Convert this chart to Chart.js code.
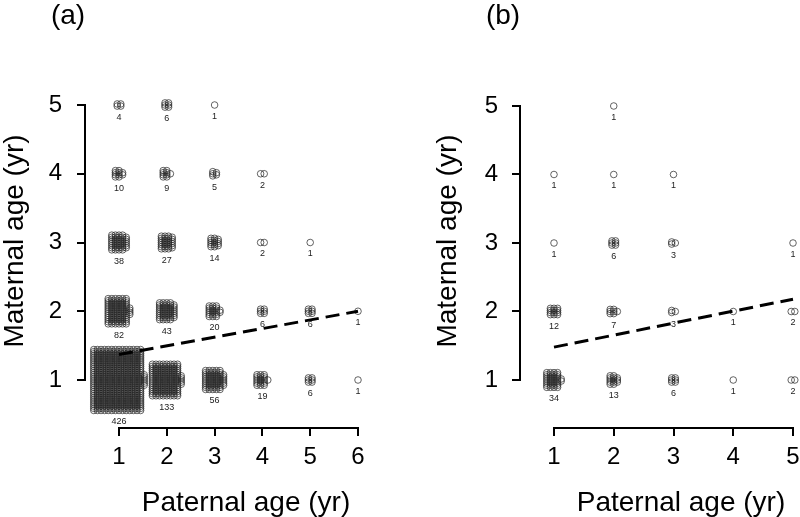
<!DOCTYPE html>
<html>
<head>
<meta charset="utf-8">
<script src="https://cdn.jsdelivr.net/npm/chart.js@4.4.0/dist/chart.umd.min.js"></script>
<style>
  html, body { margin: 0; padding: 0; background: #fff; }
  #wrap { position: relative; width: 800px; height: 517px; overflow: hidden; }
  #panelA { position: absolute; left: 0; top: 0; }
  #panelB { position: absolute; left: 400px; top: 0; }
</style>
</head>
<body>
<div id="wrap">
  <canvas id="panelA" width="430" height="517"></canvas>
  <canvas id="panelB" width="450" height="517"></canvas>
</div>
<script>
// panel (a): number of cases for each paternal / maternal age pair
const aPaternal = [1, 2, 3, 1, 2, 3, 4, 1, 2, 3, 4, 5, 1, 2, 3, 4, 5, 6, 1, 2, 3, 4, 5, 6];
const aMaternal = [5, 5, 5, 4, 4, 4, 4, 3, 3, 3, 3, 3, 2, 2, 2, 2, 2, 2, 1, 1, 1, 1, 1, 1];
const aCount = [4, 6, 1, 10, 9, 5, 2, 38, 27, 14, 2, 1, 82, 43, 20, 6, 6, 1, 426, 133, 56, 19, 6, 1];
const aFitX = [1, 6];
const aFitY = [1.37, 2.0];
const aTicksX = [1, 2, 3, 4, 5, 6];
const aTicksY = [1, 2, 3, 4, 5];

// panel (b)
const bPaternal = [2, 1, 2, 3, 1, 2, 3, 5, 1, 2, 3, 4, 5, 1, 2, 3, 4, 5];
const bMaternal = [5, 4, 4, 4, 3, 3, 3, 3, 2, 2, 2, 2, 2, 1, 1, 1, 1, 1];
const bCount = [1, 1, 1, 1, 1, 6, 3, 1, 12, 7, 3, 1, 2, 34, 13, 6, 1, 2];
const bFitX = [1, 5];
const bFitY = [1.48, 2.18];
const bTicksX = [1, 2, 3, 4, 5];
const bTicksY = [1, 2, 3, 4, 5];

const FONT = "'Liberation Sans', Arial, sans-serif";
const DX = 3.6, DY = 2.1;   // pixel step between stacked circles

function stackShape(n) {
  const rows = n < 2 ? 1 : Math.max(1, Math.round(1.5 * Math.sqrt(n) - 0.8));
  return { rows: rows, cols: Math.ceil(n / rows) };
}

// one point per case, all at the true age pair
function expand(xs, ys, ns) {
  const pts = [];
  xs.forEach((x, i) => {
    for (let k = 0; k < ns[i]; k++) pts.push({ x: x, y: ys[i], k: k, n: ns[i] });
  });
  return pts;
}

function makeStackPlugin(p) {
  return {
    id: 'stack',
    // spread the overlapping cases into a small block of columns
    afterDatasetsUpdate(chart) {
      const data = chart.data.datasets[1].data;
      chart.getDatasetMeta(1).data.forEach((el, i) => {
        const { k, n } = data[i];
        const { rows, cols } = stackShape(n);
        const col = Math.floor(k / rows), row = k % rows;
        const inCol = col === cols - 1 ? n - rows * (cols - 1) : rows;
        el.x += (col - (cols - 1) / 2) * DX;
        el.y += (row - (inCol - 1) / 2) * DY;
      });
    },
    afterDraw(chart) {
      const ctx = chart.ctx;
      const xs = chart.scales.x, ys = chart.scales.y;
      const area = chart.chartArea;
      const x0 = xs.getPixelForValue(p.ticksX[0]);
      const x1 = xs.getPixelForValue(p.ticksX[p.ticksX.length - 1]);
      const y0 = ys.getPixelForValue(p.ticksY[0]);
      const y1 = ys.getPixelForValue(p.ticksY[p.ticksY.length - 1]);
      ctx.save();
      // R style axis lines, only between first and last tick
      ctx.strokeStyle = '#000';
      ctx.lineWidth = 2;
      ctx.beginPath();
      ctx.moveTo(x0 - 1, area.bottom);
      ctx.lineTo(x1 + 1, area.bottom);
      ctx.stroke();
      ctx.beginPath();
      ctx.moveTo(area.left, y0 + 1);
      ctx.lineTo(area.left, y1 - 1);
      ctx.stroke();

      // count under each block
      ctx.fillStyle = '#222';
      ctx.font = '9px ' + FONT;
      ctx.textAlign = 'center';
      ctx.textBaseline = 'middle';
      p.xs.forEach((x, i) => {
        const { rows } = stackShape(p.ns[i]);
        const px = xs.getPixelForValue(x);
        const py = ys.getPixelForValue(p.ys[i]) + (rows - 1) / 2 * DY + 11.5;
        ctx.fillText(String(p.ns[i]), px, py);
      });

      // axis titles and panel letter
      ctx.fillStyle = '#000';
      ctx.font = '28px ' + FONT;
      ctx.fillText('Paternal age (yr)', (xs.left + xs.right) / 2, chart.height - 14);
      ctx.fillText(p.letter, p.letterX, 16);
      ctx.translate(p.yTitleX, (area.top + area.bottom) / 2);
      ctx.rotate(-Math.PI / 2);
      ctx.fillText('Maternal age (yr)', 0, 0);
      ctx.restore();
    }
  };
}

function axis(min, max, ticks, extra) {
  return Object.assign({
    type: 'linear',
    min: min,
    max: max,
    afterBuildTicks: s => { s.ticks = ticks.map(v => ({ value: v })); },
    grid: { display: true, drawOnChartArea: false, drawTicks: true, tickLength: 8, color: '#000', lineWidth: 2 },
    border: { display: false }
  }, extra);
}

function makePanel(id, p) {
  return new Chart(document.getElementById(id), {
    type: 'scatter',
    data: {
      datasets: [
        {
          type: 'line',
          data: p.fitX.map((x, i) => ({ x: x, y: p.fitY[i] })),
          borderColor: '#000',
          borderWidth: 3,
          borderDash: [14, 7],
          pointRadius: 0,
          showLine: true,
          fill: false,
          clip: false
        },
        {
          data: expand(p.xs, p.ys, p.ns),
          pointRadius: 3.3,
          pointBorderWidth: 0.7,
          pointBorderColor: '#222',
          pointBackgroundColor: 'rgba(0,0,0,0)',
          clip: false
        }
      ]
    },
    options: {
      responsive: false,
      animation: false,
      layout: { padding: { top: 54, right: p.padRight, left: 0, bottom: 0 } },
      plugins: {
        legend: { display: false },
        tooltip: { enabled: false }
      },
      scales: {
        x: axis(p.xMin, p.xMax, p.ticksX, {
          afterFit: s => { s.height = 89; },
          ticks: { font: { size: 24, family: FONT }, color: '#000', maxRotation: 0, autoSkip: false, padding: 7 }
        }),
        y: axis(p.yMin, p.yMax, p.ticksY, {
          afterFit: s => { s.width = p.yWidth; },
          ticks: { font: { size: 24, family: FONT }, color: '#000', autoSkip: false, padding: p.yTickPad }
        })
      }
    },
    plugins: [makeStackPlugin(p)]
  });
}

makePanel('panelA', {
  xs: aPaternal, ys: aMaternal, ns: aCount, fitX: aFitX, fitY: aFitY,
  ticksX: aTicksX, ticksY: aTicksY,
  xMin: 0.2887, xMax: 7.025, yMin: 0.3018, yMax: 5.742,
  padRight: 23, yWidth: 85, yTickPad: 15, yTitleX: 15, letter: '(a)', letterX: 68
});

makePanel('panelB', {
  xs: bPaternal, ys: bMaternal, ns: bCount, fitX: bFitX, fitY: bFitY,
  ticksX: bTicksX, ticksY: bTicksY,
  xMin: 0.431, xMax: 5.820, yMin: 0.2993, yMax: 5.759,
  padRight: 8, yWidth: 120, yTickPad: 14, yTitleX: 48, letter: '(b)', letterX: 103
});
</script>
</body>
</html>
